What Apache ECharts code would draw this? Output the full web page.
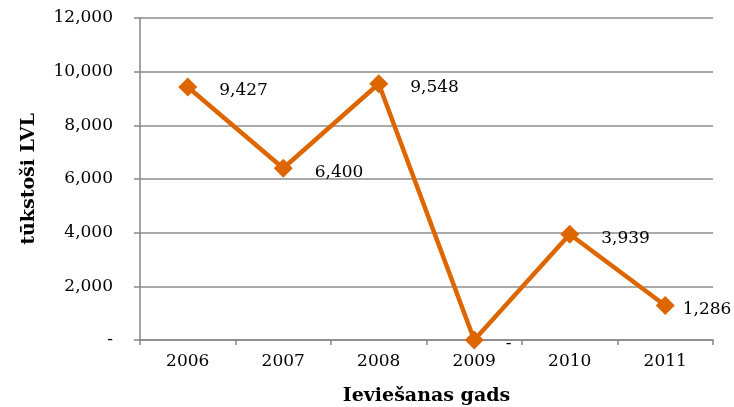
<!DOCTYPE html>
<html><head><meta charset="utf-8">
<script src="https://cdn.jsdelivr.net/npm/echarts@6/dist/echarts.min.js"></script>
<style>html,body{margin:0;padding:0;background:#fff}#c{width:734px;height:407px}</style>
</head><body><div id="c"></div>
<script>
const categories = ['2006','2007','2008','2009','2010','2011'];
const values = [9427, 6400, 9548, 0, 3939, 1286];
const yTicks = {min: 0, max: 12000, interval: 2000};
const yTitle = 'tūkstoši LVL';
const xTitle = 'Ieviešanas gads';

const FONT = 'DejaVu Serif';
const fmt = v => v === 0 ? '-' : v.toLocaleString('en-US');
// last label is pulled closer to the marker so it fits inside the chart (as in the original)
const seriesData = values.map((v, i) => i === values.length - 1 ? {value: v, label: {distance: 8}} : v);
const chart = echarts.init(document.getElementById('c'));
chart.setOption({
  animation: false,
  grid: {left: 140, right: 21, top: 18, bottom: 67, outerBoundsMode: 'none', containLabel: false},
  xAxis: {
    type: 'category', data: categories, boundaryGap: true,
    name: xTitle, nameLocation: 'middle', nameGap: 47,
    nameTextStyle: {fontFamily: FONT, fontWeight: 'bold', fontSize: 19, color: '#000'},
    axisLine: {lineStyle: {color: '#868686', width: 1.5}},
    axisTick: {show: true, alignWithLabel: false, length: 5, lineStyle: {color: '#868686', width: 1.5}},
    axisLabel: {fontFamily: FONT, fontSize: 17, color: '#000', margin: 13}
  },
  yAxis: {
    type: 'value', min: yTicks.min, max: yTicks.max, interval: yTicks.interval,
    name: yTitle, nameLocation: 'middle', nameGap: 101, nameRotate: 90,
    nameTextStyle: {fontFamily: FONT, fontWeight: 'bold', fontSize: 19, color: '#000'},
    axisLine: {show: true, lineStyle: {color: '#868686', width: 1.5}},
    axisTick: {show: true, length: 6, lineStyle: {color: '#868686', width: 1.5}},
    splitLine: {lineStyle: {color: '#8c8c8c', width: 1.5}},
    axisLabel: {fontFamily: FONT, fontSize: 17, color: '#000', margin: 27, formatter: fmt}
  },
  series: [{
    type: 'line', data: seriesData,
    symbol: 'diamond', symbolSize: 19,
    lineStyle: {color: '#DD6600', width: 4.5},
    itemStyle: {color: '#DD6600'},
    label: {show: true, position: 'right', distance: 22, offset: [0, 4],
      fontFamily: FONT, fontSize: 17, color: '#000',
      formatter: p => fmt(p.value)}
  }]
});
</script></body></html>
